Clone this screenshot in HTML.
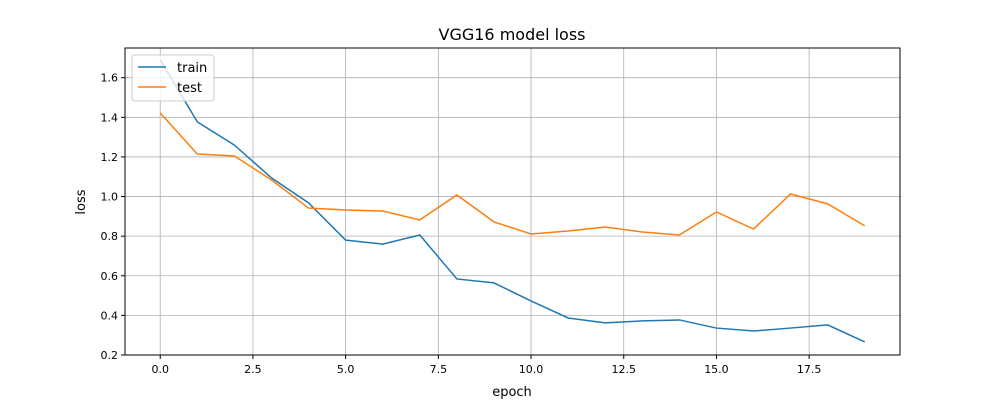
<!DOCTYPE html>
<html><head><meta charset="utf-8"><style>
body{margin:0;background:#fff;font-family:"Liberation Sans","DejaVu Sans",sans-serif;}
svg text{font-family:"DejaVu Sans","Liberation Sans",sans-serif;}
</style></head><body>
<svg id="chart" width="1000" height="400" xmlns="http://www.w3.org/2000/svg">
<rect width="1000" height="400" fill="#fff"/>
<text x="512" y="40" font-size="16" text-anchor="middle">VGG16 model loss</text>
<g id="grid"></g>
<g id="series"></g>
<rect x="125" y="48" width="775" height="307" fill="none" stroke="#000" stroke-width="1"/>
<g id="axes"></g>
<text x="512" y="396" font-size="13" text-anchor="middle">epoch</text>
<text transform="translate(85,202) rotate(-90)" font-size="13" text-anchor="middle">loss</text>
<g>
<rect x="132" y="55" width="82" height="46" fill="#fff" fill-opacity="0.8" stroke="#ccc" rx="3"/>
<line x1="138" y1="67" x2="166" y2="67" stroke="#1f77b4" stroke-width="1.5"/>
<text x="177" y="72" font-size="13">train</text>
<line x1="138" y1="87" x2="166" y2="87" stroke="#ff7f0e" stroke-width="1.5"/>
<text x="177" y="92" font-size="13">test</text>
</g>
</svg>
<script>
const epochs=[0,1,2,3,4,5,6,7,8,9,10,11,12,13,14,15,16,17,18,19];
const trainLoss=[1.69,1.377,1.26,1.094,0.968,0.78,0.76,0.806,0.584,0.564,0.473,0.387,0.362,0.372,0.377,0.336,0.321,0.336,0.352,0.266];
const testLoss=[1.422,1.215,1.205,1.084,0.942,0.932,0.927,0.882,1.008,0.872,0.811,0.826,0.846,0.821,0.806,0.922,0.836,1.013,0.963,0.852];
const xTicks=[0,2.5,5,7.5,10,12.5,15,17.5];
const xTickLabels=["0.0","2.5","5.0","7.5","10.0","12.5","15.0","17.5"];
const yTicks=[0.2,0.4,0.6,0.8,1.0,1.2,1.4,1.6];
const yTickLabels=["0.2","0.4","0.6","0.8","1.0","1.2","1.4","1.6"];
const NS="http://www.w3.org/2000/svg";
const L=125,R=900,T=48,B=355,xMin=-0.95,xMax=19.95,yMin=0.2,yMax=1.75;
const xs=v=>L+(v-xMin)/(xMax-xMin)*(R-L);
const ys=v=>B-(v-yMin)/(yMax-yMin)*(B-T);
function mk(t,a,p){const e=document.createElementNS(NS,t);for(const k in a)e.setAttribute(k,a[k]);p.appendChild(e);return e;}
const grid=document.getElementById('grid'),axes=document.getElementById('axes'),ser=document.getElementById('series');
xTicks.forEach((v,i)=>{const x=xs(v);
 const g=mk('line',{x1:x,x2:x,y1:T,y2:B,stroke:'#b0b0b0','stroke-width':0.8},grid);
 
 mk('line',{x1:x,x2:x,y1:B,y2:B+4,stroke:'#000'},axes);
 const t=mk('text',{x:x,y:B+18,'font-size':11,'text-anchor':'middle'},axes);t.textContent=xTickLabels[i];
 });
yTicks.forEach((v,i)=>{const y=ys(v);
 const g=mk('line',{x1:L,x2:R,y1:y,y2:y,stroke:'#b0b0b0','stroke-width':0.8},grid);
 
 mk('line',{x1:L-4,x2:L,y1:y,y2:y,stroke:'#000'},axes);
 const t=mk('text',{x:L-7,y:y+4,'font-size':11,'text-anchor':'end'},axes);t.textContent=yTickLabels[i];
 });
function line(data,color,name){const p=mk('polyline',{points:data.map((v,i)=>xs(epochs[i])+','+ys(v)).join(' '),fill:'none',stroke:color,'stroke-width':1.5},ser);
 }
line(trainLoss,'#1f77b4','train-line');
line(testLoss,'#ff7f0e','test-line');
</script>
</body></html>
